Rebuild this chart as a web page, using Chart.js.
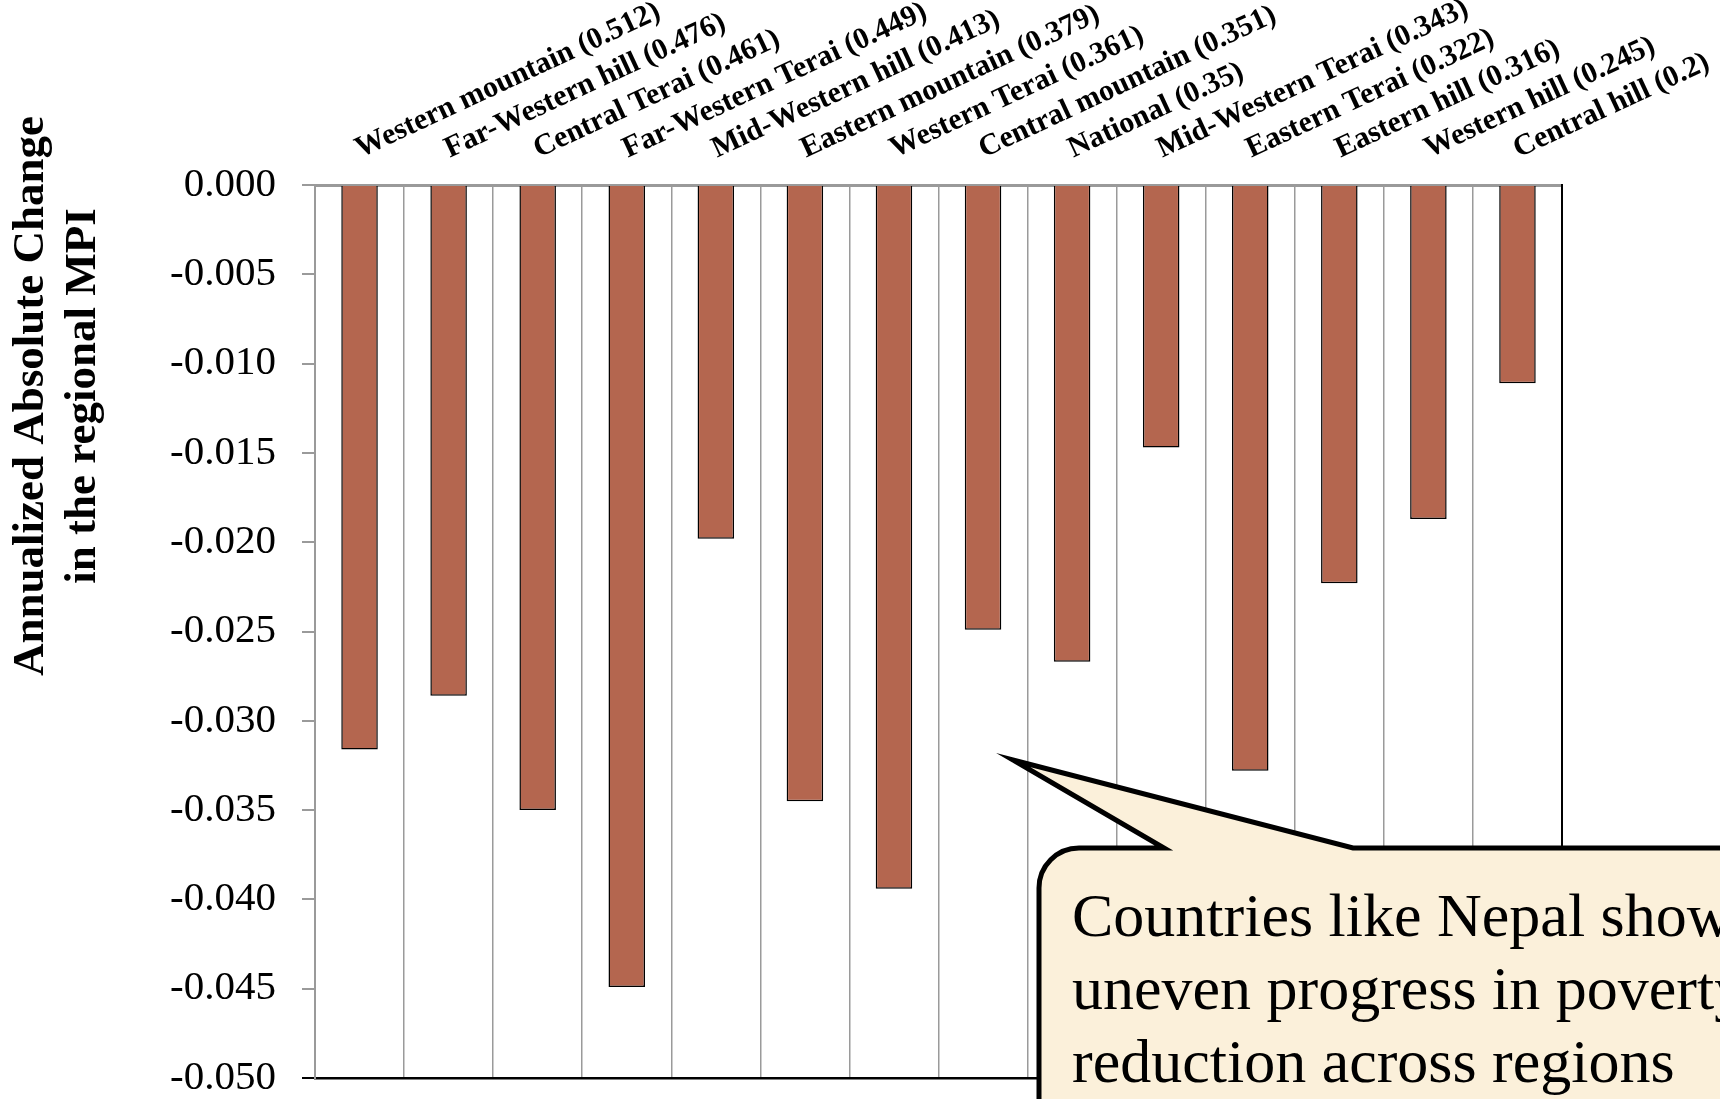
<!DOCTYPE html>
<html>
<head>
<meta charset="UTF-8">
<title>regional MPI change</title>
<style>
body{
	margin: 0;
	background-color: white;
}
#wrap{
	width: 1720px;
	height: 1099px;
}
</style>
</head>
<body>
<div id="wrap">
	<canvas id="myChart" width="1720" height="1099"></canvas>
</div>
<script src="https://cdn.jsdelivr.net/npm/chart.js"></script>
<script>
// regions, ordered by MPI of the first year
const regionNames = ['Western mountain','Far-Western hill','Central Terai','Far-Western Terai','Mid-Western hill','Eastern mountain','Western Terai','Central mountain','National','Mid-Western Terai','Eastern Terai','Eastern hill','Western hill','Central hill'];
const regionMPI = [0.512, 0.476, 0.461, 0.449, 0.413, 0.379, 0.361, 0.351, 0.35, 0.343, 0.322, 0.316, 0.245, 0.2];
// annualized absolute change in MPI
const annualChange = [-0.0316, -0.0286, -0.0350, -0.0449, -0.0198, -0.0345, -0.0394, -0.0249, -0.0267, -0.0147, -0.0328, -0.0223, -0.0187, -0.0111];
const yTitle = ['Annualized Absolute Change', 'in the regional MPI'];
const noteLines = ['Countries like Nepal show', 'uneven progress in poverty', 'reduction across regions'];

const labels = regionNames.map(function(n, i){ return n + ' (' + regionMPI[i] + ')'; });
const serif = '"Liberation Serif", "Times New Roman", serif';

// y axis title, two lines, drawn rotated
const yTitlePlugin = {
	id: 'yTitle',
	afterDraw: function(chart){
		const ctx = chart.ctx;
		ctx.save();
		ctx.font = 'bold 45px ' + serif;
		ctx.fillStyle = '#000';
		ctx.textAlign = 'center';
		ctx.textBaseline = 'middle';
		ctx.translate(57, 396);
		ctx.rotate(-Math.PI / 2);
		ctx.fillText(yTitle[0], 0, -26);
		ctx.fillText(yTitle[1], 0, 26);
		ctx.restore();
	}
};

// speech bubble in the lower right corner
const notePlugin = {
	id: 'note',
	afterDraw: function(chart){
		const ctx = chart.ctx;
		const L = 1039, T = 848, R = 1790, B = 1170, r = 40;
		ctx.save();
		ctx.beginPath();
		ctx.moveTo(L + r, T);
		ctx.lineTo(1164, T);
		ctx.lineTo(1013, 760);
		ctx.lineTo(1353, T);
		ctx.lineTo(R, T);
		ctx.lineTo(R, B);
		ctx.lineTo(L, B);
		ctx.lineTo(L, T + r);
		ctx.arcTo(L, T, L + r, T, r);
		ctx.closePath();
		ctx.fillStyle = '#fbf0da';
		ctx.fill();
		ctx.lineWidth = 5;
		ctx.lineJoin = 'miter';
		ctx.strokeStyle = '#000';
		ctx.stroke();
		ctx.font = '62px ' + serif;
		ctx.fillStyle = '#000';
		ctx.textAlign = 'left';
		ctx.textBaseline = 'alphabetic';
		for(let i = 0; i < noteLines.length; i++){
			ctx.fillText(noteLines[i], 1072, 936 + i * 73);
		}
		ctx.restore();
	}
};

const ctx = document.getElementById('myChart').getContext('2d');
const chart = new Chart(ctx, {
	type: 'bar',
	data: {
		labels: labels,
		datasets: [{
			data: annualChange,
			backgroundColor: '#b4664f',
			borderColor: '#000',
			borderWidth: 1.5,
			barPercentage: 0.41,
			categoryPercentage: 1
		}]
	},
	options: {
		responsive: false,
		devicePixelRatio: 1,
		animation: false,
		layout: { padding: { left: 0, right: 158, top: 0, bottom: 21 } },
		plugins: {
			legend: { display: false },
			tooltip: { enabled: false }
		},
		scales: {
			x: {
				position: 'top',
				grid: { color: '#9a9a9a', lineWidth: 1.5, drawTicks: false },
				border: { color: '#9a9a9a', width: 3 },
				ticks: {
					color: '#000',
					font: { family: serif, size: 30, weight: 'bold' },
					minRotation: 25,
					maxRotation: 25,
					autoSkip: false,
					labelOffset: 13,
					padding: 18
				},
				afterFit: function(s){ s.height = 185; s.paddingLeft = 0; s.paddingRight = 0; }
			},
			x2: {
				type: 'linear',
				position: 'bottom',
				grid: { display: false },
				ticks: { display: false },
				border: { color: '#000', width: 2.5 },
				afterFit: function(s){ s.height = 0; s.paddingLeft = 0; s.paddingRight = 0; }
			},
			y: {
				min: -0.05,
				max: 0,
				grid: {
					drawOnChartArea: false,
					drawTicks: true,
					tickLength: 13,
					color: '#9a9a9a',
					tickColor: function(c){ return (c.tick && Math.abs(c.tick.value + 0.05) < 1e-9) ? '#000' : '#9a9a9a'; },
					lineWidth: 2
				},
				border: { color: '#9a9a9a', width: 2 },
				ticks: {
					stepSize: 0.005,
					color: '#000',
					padding: 26,
					font: { family: serif, size: 41 },
					callback: function(v){ return Number(v).toFixed(3); }
				},
				afterFit: function(s){ s.width = 315; s.paddingTop = 0; s.paddingBottom = 0; }
			},
			y2: {
				type: 'linear',
				position: 'right',
				grid: { display: false },
				ticks: { display: false },
				border: { color: '#000', width: 2 },
				afterFit: function(s){ s.width = 0; s.paddingTop = 0; s.paddingBottom = 0; }
			}
		}
	},
	plugins: [yTitlePlugin, notePlugin]
});
</script>
</body>
</html>
